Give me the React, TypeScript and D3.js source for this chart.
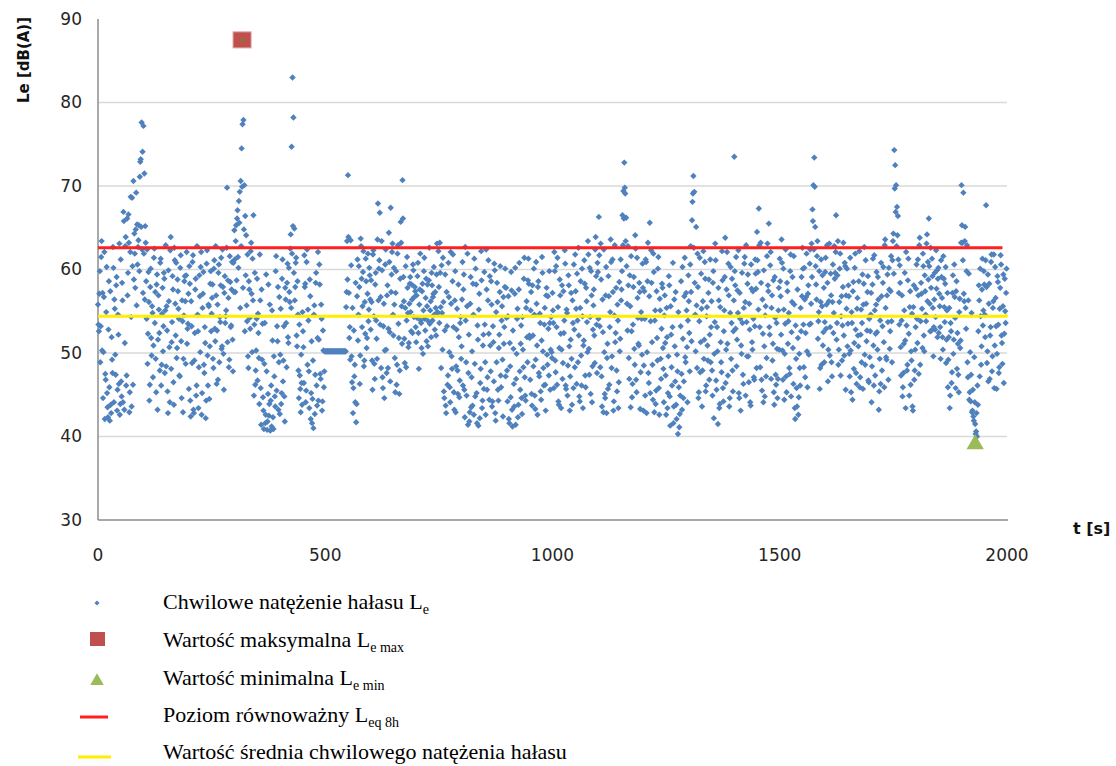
import React from 'react';
import * as d3 from 'd3';

const width = 1116;
const height = 766;
const left = 98;
const right = 1007;
const top = 19;
const bottom = 520;

// instantaneous noise level Le, one reading per second, split into even and odd seconds
// (each row covers 50 s)
const leEven = [
  55.8, 52.6, 59.8, 53.2, 63.4, 57.2, 50.1, 62.1, 47.5, 54.9, 45.2, 42.3, 58.6, 41.9, 43.8, 51.9, 47.6, 60.2, 56.4, 49.8, 58.1, 43.1, 54.6, 46.3, 42.6,
  61.2, 44.8, 56.3, 66.9, 43.2, 62.8, 46.1, 66.1, 59.6, 63.2, 45.3, 68.7, 43.6, 60.4, 70.6, 64.3, 57.8, 69.2, 65.4, 62.7, 65.3, 71.1, 73.2, 77.6, 74.1,
  77.2, 71.5, 65.2, 58.6, 62.4, 52.3, 56.1, 46.2, 60.1, 49.7, 54.8, 50.9, 62.5, 57.3, 45.3, 59.4, 51.6, 55.2, 47.9, 61.3, 48.6, 57.8, 53.2, 58.9, 55.1,
  48.4, 52.7, 42.8, 56.2, 44.1, 63.9, 51.3, 59.2, 46.5, 62.6, 55.9, 60.8, 50.6, 57.4, 54.1, 47.2, 61.7, 44.6, 53.8, 49.3, 58.6, 56.2, 59.3, 51.1, 53.5,
  45.7, 58.3, 42.4, 53.2, 60.9, 43.2, 49.1, 57.6, 44.9, 62.8, 52.6, 48.3, 56.8, 60.3, 42.6, 55.4, 59.7, 47.6, 51.2, 44.3, 62.3, 46.1, 55.6, 50.8, 59.8,
  54.7, 58.2, 48.2, 61.1, 51.4, 56.9, 52.7, 46.8, 60.6, 54.3, 58.1, 50.5, 62.4, 49.9, 57.2, 53.6, 55.1, 69.8, 58.7, 48.3, 61.6, 53.1, 57.6, 51.6, 60.8,
  64.7, 57.3, 65.3, 66.1, 61.5, 68.2, 69.3, 70.6, 74.5, 77.4, 77.9, 70.1, 66.4, 64.1, 53.8, 49.6, 58.6, 54.2, 62.2, 57.1, 61.3, 66.5, 53.4, 46.2, 50.3,
  58.9, 54.7, 49.4, 61.8, 45.8, 57.6, 53.5, 43.1, 48.7, 41.6, 59.4, 40.8, 45.1, 42.5, 55.8, 44.3, 41.2, 51.5, 40.9, 47.2, 43.6, 61.6, 53.2, 57.9, 48.9,
  42.7, 55.3, 45.2, 61.2, 49.1, 44.8, 57.8, 53.6, 58.4, 51.9, 60.2, 56.1, 64.2, 74.7, 83.0, 78.2, 64.9, 57.9, 61.4, 50.8, 54.6, 44.6, 47.3, 42.9, 46.4,
  54.9, 50.7, 61.7, 58.3, 45.5, 62.4, 55.2, 47.8, 58.8, 42.1, 51.4, 44.5, 41.0, 55.7, 47.4, 59.6, 43.7, 62.1, 51.6, 58.2, 46.9, 54.1, 44.2, 50.3, 47.8,
  50.2, 50.2, 50.2, 50.2, 50.2, 50.2, 50.2, 50.2, 50.2, 50.2, 50.2, 50.2, 50.2, 50.2, 50.2, 50.2, 50.2, 50.2, 50.2, 50.2, 50.2, 50.2, 50.2, 55.5, 63.4,
  71.3, 57.2, 53.1, 63.5, 49.6, 55.4, 45.8, 47.2, 44.1, 41.7, 56.8, 51.5, 60.4, 46.3, 63.7, 58.9, 55.6, 62.2, 49.1, 52.3, 58.6, 51.8, 61.9, 55.2, 59.3,
  52.8, 56.1, 45.6, 62.3, 48.7, 58.2, 53.9, 49.3, 67.9, 60.1, 66.8, 56.7, 63.4, 47.1, 53.2, 44.6, 60.6, 50.4, 56.9, 48.2, 64.4, 52.5, 67.4, 59.4, 63.1,
  52.1, 55.8, 45.3, 59.8, 48.6, 62.9, 51.8, 47.9, 65.7, 55.6, 70.7, 59.1, 51.7, 55.4, 48.3, 61.5, 54.8, 51.2, 58.3, 54.9, 58.2, 52.4, 59.9, 56.7, 57.4,
  51.3, 54.2, 60.8, 48.1, 57.6, 53.9, 50.6, 58.3, 55.1, 61.4, 52.7, 58.9, 55.6, 50.8, 58.7, 53.5, 56.2, 59.6, 53.9, 57.1, 54.6, 57.3, 52.1, 63.1, 54.8,
  57.9, 63.2, 55.5, 60.5, 50.4, 56.1, 44.6, 59.4, 42.8, 53.2, 47.3, 56.7, 45.9, 62.1, 49.6, 58.6, 53.1, 43.2, 59.8, 48.4, 55.3, 45.1, 51.9, 46.7, 54.3,
  50.8, 60.9, 57.6, 45.6, 62.7, 48.9, 55.6, 41.4, 52.2, 42.9, 59.1, 47.1, 43.7, 54.6, 61.3, 44.8, 58.2, 41.6, 51.6, 55.2, 42.2, 48.1, 58.7, 44.3, 52.2,
  59.7, 48.9, 62.4, 45.6, 56.3, 52.3, 59.2, 47.8, 55.8, 44.2, 51.3, 60.7, 42.8, 54.9, 58.4, 45.6, 50.6, 57.3, 47.3, 53.9, 49.2, 56.7, 53.1, 60.1, 57.8,
  47.9, 54.4, 42.1, 51.2, 44.7, 57.5, 41.2, 50.5, 43.6, 60.2, 46.9, 54.1, 42.3, 57.6, 47.8, 51.1, 44.6, 54.3, 48.3, 61.4, 44.9, 55.4, 51.9, 58.7, 58.3,
  51.8, 55.1, 45.1, 58.1, 48.4, 54.6, 43.3, 60.9, 50.9, 57.9, 47.6, 54.7, 45.4, 51.5, 59.6, 48.2, 53.4, 46.2, 56.9, 49.8, 56.8, 47.3, 53.6, 50.4, 50.1,
  57.2, 53.6, 62.1, 49.1, 60.4, 46.2, 55.5, 43.8, 58.8, 52.3, 50.4, 46.9, 57.4, 53.9, 60.7, 45.7, 54.8, 48.5, 58.1, 43.1, 51.6, 49.3, 56.3, 45.8, 52.8,
  61.8, 55.3, 59.5, 48.9, 52.1, 44.2, 58.6, 46.1, 54.4, 50.9, 61.1, 47.3, 57.8, 53.7, 63.4, 50.5, 60.2, 45.1, 56.9, 48.4, 55.7, 52.1, 62.4, 59.2, 47.6,
  59.7, 66.3, 53.2, 63.1, 47.2, 56.4, 42.9, 50.1, 44.6, 60.3, 49.4, 45.7, 56.8, 53.1, 63.6, 48.2, 61.2, 43.1, 54.5, 51.3, 57.8, 45.4, 53.9, 46.5, 50.2,
  61.2, 57.6, 66.5, 69.4, 72.8, 69.1, 66.2, 55.9, 62.8, 49.4, 59.3, 43.5, 52.6, 46.3, 57.9, 50.5, 64.1, 46.8, 61.4, 54.2, 50.9, 57.3, 47.7, 54.1, 60.7,
  43.1, 57.4, 44.9, 60.9, 50.1, 63.2, 46.4, 65.6, 53.8, 58.4, 48.6, 61.9, 42.9, 55.1, 45.5, 51.8, 60.1, 45.8, 56.5, 49.3, 52.9, 57.8, 48.1, 54.5, 51.2,
  42.6, 51.9, 45.2, 59.2, 44.8, 55.6, 48.3, 53.1, 41.6, 56.4, 46.6, 43.8, 49.8, 40.3, 45.9, 42.7, 53.2, 47.5, 60.3, 44.6, 56.8, 49.5, 57.2, 50.7, 53.9,
  56.2, 47.8, 62.8, 51.4, 68.1, 71.2, 69.3, 54.6, 65.1, 48.2, 57.9, 45.3, 61.4, 51.3, 55.3, 47.9, 62.2, 51.6, 58.9, 46.1, 55.5, 49.1, 58.8, 52.2, 48.9,
  56.2, 44.9, 59.8, 49.9, 63.1, 46.7, 53.1, 41.5, 56.3, 43.9, 51.3, 47.7, 58.7, 44.2, 55.1, 63.8, 50.4, 62.1, 47.3, 56.9, 44.6, 60.3, 53.6, 47.9, 52.6,
  73.5, 58.1, 61.5, 51.6, 54.8, 45.2, 57.2, 43.1, 49.9, 53.6, 46.3, 60.7, 56.1, 62.9, 49.6, 59.4, 46.5, 52.8, 43.7, 57.7, 50.4, 54.1, 46.8, 61.2, 57.7,
  64.5, 59.7, 67.3, 53.1, 63.2, 46.8, 56.4, 44.1, 50.8, 54.5, 47.2, 61.6, 58.1, 65.5, 52.2, 62.1, 55.4, 49.1, 58.7, 43.8, 54.2, 46.2, 50.5, 46.9, 57.8,
  61.3, 56.8, 63.6, 50.3, 60.1, 44.4, 53.5, 47.2, 58.4, 51.1, 54.8, 47.5, 61.8, 52.5, 59.1, 46.3, 55.8, 42.1, 49.3, 43.6, 51.8, 44.7, 48.2, 55.4, 59.1,
  62.6, 53.4, 60.2, 47.1, 56.7, 50.2, 57.1, 49.8, 60.7, 53.5, 63.1, 67.2, 70.1, 73.4, 65.1, 58.2, 61.6, 51.7, 54.9, 45.7, 56.1, 48.6, 59.3, 52.5, 48.9,
  59.7, 52.9, 62.9, 46.6, 56.2, 49.7, 59.5, 48.9, 56.1, 52.4, 62.8, 59.6, 66.5, 53.6, 63.4, 50.4, 60.1, 47.3, 56.8, 53.3, 63.2, 49.7, 60.4, 56.9, 60.1,
  53.5, 56.8, 47.2, 50.3, 54.9, 44.4, 58.5, 51.2, 61.9, 47.6, 55.3, 52.1, 58.6, 45.9, 52.2, 48.9, 59.4, 55.8, 62.7, 48.6, 55.9, 52.7, 59.2, 46.5, 49.5,
  54.6, 44.1, 58.2, 50.9, 61.7, 47.3, 55.8, 52.5, 59.1, 43.2, 49.3, 46.3, 56.8, 53.2, 60.3, 45.9, 63.6, 49.5, 56.9, 53.7, 60.2, 50.5, 57.4, 53.8, 61.1,
  64.3, 74.3, 72.5, 70.1, 67.5, 66.4, 57.2, 60.5, 50.7, 53.9, 44.8, 47.6, 55.1, 51.5, 62.1, 47.9, 58.7, 52.3, 55.5, 46.2, 49.1, 43.6, 55.5, 46.8, 50.4,
  57.7, 54.1, 61.2, 47.5, 63.8, 53.8, 57.1, 50.6, 60.4, 50.2, 57.4, 53.8, 64.2, 60.9, 66.1, 55.9, 62.6, 52.7, 59.2, 49.6, 56.4, 52.8, 62.3, 59.9, 58.9,
  52.4, 55.6, 49.3, 59.1, 51.9, 61.6, 55.5, 58.3, 48.8, 55.1, 45.9, 51.9, 43.4, 53.6, 46.4, 57.2, 49.9, 60.6, 54.2, 57.4, 48.1, 51.1, 45.3, 56.5, 51.5,
  70.1, 63.2, 69.2, 56.2, 65.1, 52.9, 62.9, 47.1, 59.5, 45.3, 44.2, 54.8, 43.1, 42.4, 49.5, 41.5, 40.6, 40.0, 43.8, 58.1, 47.2, 54.4, 50.8, 61.3, 55.1,
  58.2, 51.9, 67.7, 48.8, 59.4, 55.9, 46.9, 53.1, 61.8, 49.6, 56.2, 45.8, 60.3, 53.2, 49.9, 58.5, 47.6, 55.3, 61.7, 52.1, 48.7, 59.4, 52.3, 55.0, 57.2,
];

const leOdd = [
  53.4, 57.1, 48.9, 61.5, 50.3, 44.6, 56.7, 42.1, 46.8, 60.3, 43.5, 52.8, 45.9, 57.4, 42.8, 49.2, 62.7, 44.1, 55.3, 47.4, 59.1, 45.6, 52.2, 63.1, 43.9,
  46.6, 58.4, 44.1, 65.8, 51.2, 63.9, 47.3, 56.9, 66.6, 42.9, 62.1, 54.3, 68.6, 46.2, 58.8, 61.9, 64.8, 55.7, 60.6, 63.5, 59.8, 72.9, 65.1, 62.4, 57.2,
  61.9, 56.4, 63.2, 54.1, 48.7, 59.7, 44.3, 57.9, 51.8, 55.6, 47.1, 61.4, 53.6, 49.3, 58.2, 43.2, 56.9, 52.4, 60.8, 46.1, 54.7, 50.2, 59.6, 47.6, 62.9,
  55.6, 45.4, 59.9, 50.7, 62.3, 48.1, 53.7, 57.6, 43.8, 61.1, 52.1, 49.4, 58.8, 55.3, 47.3, 60.2, 51.4, 56.3, 42.9, 54.5, 59.2, 48.7, 62.1, 52.9, 57.1,
  60.4, 44.3, 56.2, 48.8, 61.7, 42.8, 52.4, 58.9, 46.1, 54.6, 43.4, 59.3, 50.1, 62.1, 45.2, 57.1, 48.6, 53.1, 42.2, 60.7, 49.7, 55.8, 44.5, 58.3, 52.6,
  56.6, 49.3, 60.1, 52.9, 62.8, 46.3, 55.8, 59.6, 48.9, 53.7, 61.4, 50.8, 57.9, 45.6, 59.2, 54.4, 62.6, 51.3, 56.6, 49.2, 58.5, 53.3, 60.9, 47.8, 57.3,
  61.2, 63.4, 58.7, 67.1, 60.2, 65.6, 55.4, 62.8, 69.9, 57.8, 64.8, 52.6, 59.3, 55.7, 61.8, 48.2, 57.6, 52.9, 63.2, 50.1, 56.3, 44.9, 59.6, 47.9, 54.1,
  46.7, 52.4, 43.9, 56.3, 41.4, 49.2, 44.7, 40.9, 53.6, 42.6, 47.8, 41.8, 58.2, 43.9, 40.7, 46.1, 55.1, 42.3, 49.6, 44.8, 59.8, 45.5, 51.4, 43.2, 56.7,
  49.8, 43.9, 58.9, 46.6, 53.2, 41.8, 56.4, 48.3, 60.7, 51.2, 57.3, 62.5, 55.4, 61.9, 65.2, 59.6, 56.3, 60.8, 52.1, 58.6, 47.9, 53.4, 45.7, 49.8, 43.8,
  52.6, 46.4, 57.9, 44.1, 60.9, 48.6, 53.9, 43.4, 56.8, 45.2, 41.6, 49.1, 54.6, 42.7, 58.4, 46.1, 51.8, 44.3, 60.6, 47.5, 55.8, 43.1, 52.7, 45.9, 50.2,
  50.2, 50.2, 50.2, 50.2, 50.2, 50.2, 50.2, 50.2, 50.2, 50.2, 50.2, 50.2, 50.2, 50.2, 50.2, 50.2, 50.2, 50.2, 50.2, 50.2, 50.2, 50.2, 50.2, 57.3, 58.8,
  63.9, 51.8, 49.2, 60.5, 46.5, 42.8, 52.7, 48.6, 58.4, 43.9, 61.2, 54.6, 57.9, 49.7, 62.8, 53.1, 59.7, 48.4, 56.1, 61.3, 50.6, 57.1, 53.8, 60.2, 56.4,
  58.7, 49.1, 61.8, 54.4, 46.9, 59.6, 51.7, 63.6, 56.3, 61.1, 53.4, 48.2, 59.9, 45.8, 55.9, 50.3, 62.4, 47.6, 58.1, 52.9, 60.9, 46.6, 57.3, 62.1, 54.6,
  60.2, 49.4, 57.2, 46.2, 61.9, 53.5, 45.1, 58.9, 63.2, 51.1, 66.1, 56.2, 48.8, 60.4, 53.9, 57.8, 50.7, 55.9, 59.1, 52.6, 56.4, 60.6, 54.3, 57.9, 53.1,
  56.9, 59.2, 52.4, 55.8, 61.9, 53.6, 57.4, 49.9, 59.8, 54.1, 56.6, 51.4, 58.2, 53.8, 62.6, 55.1, 51.9, 58.1, 56.7, 60.3, 52.8, 55.4, 59.4, 54.9, 62.2,
  53.6, 59.6, 48.2, 54.8, 61.4, 45.4, 52.7, 43.7, 57.3, 46.2, 60.8, 50.1, 44.1, 55.9, 48.1, 61.8, 45.3, 56.3, 42.9, 52.8, 47.9, 58.2, 44.7, 53.6, 49.3,
  56.4, 46.1, 59.4, 42.3, 53.9, 44.9, 61.9, 47.6, 41.8, 55.9, 43.5, 50.2, 58.3, 42.6, 48.7, 60.1, 45.2, 53.3, 41.3, 57.1, 46.4, 62.2, 43.4, 50.9, 45.7,
  53.4, 42.6, 57.6, 47.1, 61.1, 44.4, 50.9, 58.6, 43.6, 53.2, 46.6, 59.9, 41.9, 48.9, 56.1, 44.3, 52.2, 60.4, 45.9, 55.6, 42.4, 51.1, 57.9, 47.2, 54.2,
  44.2, 56.8, 41.6, 48.4, 59.7, 43.2, 52.7, 46.3, 57.1, 41.4, 49.9, 55.3, 43.8, 60.8, 45.6, 53.3, 42.7, 50.4, 58.9, 47.1, 44.3, 56.2, 48.9, 61.3, 52.1,
  46.8, 57.3, 43.7, 52.1, 60.1, 44.9, 49.2, 55.9, 42.6, 58.6, 47.2, 53.6, 44.4, 61.5, 50.2, 46.1, 55.4, 43.1, 57.8, 48.6, 52.9, 59.8, 45.6, 54.3, 49.4,
  55.1, 45.8, 59.8, 47.7, 53.1, 61.4, 44.2, 50.6, 56.9, 43.4, 58.1, 48.8, 52.4, 62.3, 46.1, 55.2, 44.9, 59.3, 50.8, 47.2, 57.2, 43.8, 53.6, 60.6, 48.3,
  57.4, 46.3, 53.9, 62.6, 44.8, 55.4, 49.7, 60.1, 43.4, 51.5, 58.3, 45.9, 56.2, 50.1, 61.8, 47.4, 54.3, 59.8, 44.1, 52.8, 57.6, 48.8, 63.9, 53.4, 60.8,
  54.1, 61.7, 48.3, 58.8, 43.6, 52.5, 62.4, 45.1, 56.9, 42.8, 51.1, 59.2, 46.2, 54.9, 60.9, 49.6, 57.3, 44.2, 62.9, 52.4, 47.9, 55.8, 43.4, 58.5, 51.7,
  56.3, 59.8, 62.9, 66.1, 69.8, 63.4, 60.4, 52.7, 58.1, 46.9, 55.6, 61.6, 44.7, 53.4, 59.1, 48.6, 62.5, 45.3, 56.6, 51.1, 58.4, 43.3, 54.9, 49.8, 57.8,
  48.5, 54.1, 61.2, 42.8, 58.6, 47.6, 56.8, 45.2, 62.3, 51.3, 44.4, 59.7, 53.9, 43.9, 57.4, 49.1, 61.5, 42.6, 55.1, 46.9, 58.3, 50.6, 44.1, 56.9, 47.3,
  55.4, 43.4, 49.6, 58.1, 41.3, 52.2, 46.1, 60.8, 43.6, 50.8, 57.3, 42.1, 47.8, 54.9, 41.1, 44.9, 58.6, 43.2, 51.7, 46.6, 61.4, 48.9, 55.1, 44.1, 59.3,
  52.4, 60.6, 57.3, 65.9, 69.1, 62.6, 58.4, 50.2, 55.7, 61.9, 44.6, 53.8, 47.7, 59.5, 43.6, 56.2, 49.3, 60.9, 45.4, 54.4, 50.9, 57.2, 46.8, 61.2, 53.1,
  47.9, 58.4, 42.2, 53.7, 61.1, 45.6, 50.2, 57.8, 43.4, 55.5, 48.9, 62.2, 45.8, 52.6, 59.1, 46.4, 57.6, 51.1, 60.7, 43.6, 54.8, 49.3, 58.9, 45.4, 56.3,
  59.8, 52.9, 48.4, 57.5, 62.3, 44.6, 54.1, 50.9, 59.6, 47.4, 55.4, 61.5, 44.9, 53.7, 58.3, 49.6, 55.9, 44.1, 60.6, 51.3, 57.4, 47.1, 53.2, 59.5, 48.2,
  61.1, 55.2, 62.9, 48.3, 58.4, 45.5, 52.3, 59.9, 44.8, 55.6, 49.4, 63.1, 57.4, 53.1, 60.5, 46.9, 56.9, 51.1, 45.3, 59.1, 47.4, 53.6, 44.6, 55.1, 50.4,
  58.6, 52.2, 60.8, 46.8, 55.2, 49.9, 62.4, 45.3, 57.4, 53.8, 48.2, 59.8, 44.8, 56.1, 50.6, 61.6, 43.4, 53.3, 45.8, 57.6, 42.6, 49.9, 46.1, 52.6, 56.8,
  60.1, 48.3, 56.4, 52.4, 61.9, 45.9, 58.1, 53.4, 62.4, 55.9, 59.1, 65.8, 62.4, 69.9, 60.4, 56.4, 63.4, 53.8, 59.8, 48.2, 61.2, 55.6, 50.9, 57.8, 53.7,
  61.4, 55.8, 58.4, 50.4, 63.1, 53.1, 56.9, 47.2, 60.6, 54.8, 58.9, 62.1, 51.6, 59.3, 48.6, 56.1, 61.9, 54.4, 49.1, 57.9, 52.1, 60.8, 45.6, 55.3, 50.8,
  58.1, 49.9, 61.4, 45.3, 53.6, 57.4, 48.1, 60.2, 52.8, 46.3, 56.6, 50.8, 62.2, 47.1, 55.2, 53.6, 45.7, 58.3, 49.8, 61.1, 51.4, 57.3, 46.7, 54.1, 52.6,
  57.2, 48.4, 61.3, 46.1, 55.1, 52.3, 59.7, 50.4, 56.4, 45.4, 53.9, 60.8, 47.9, 58.4, 51.3, 62.9, 55.4, 49.2, 59.4, 46.8, 57.6, 52.6, 61.6, 48.9, 63.4,
  59.5, 69.7, 66.9, 62.8, 64.1, 61.2, 53.4, 58.4, 47.3, 56.9, 45.9, 51.1, 59.6, 43.4, 53.3, 48.6, 61.3, 44.9, 57.4, 50.2, 54.7, 43.1, 58.1, 47.9, 53.1,
  60.6, 51.2, 56.9, 62.9, 48.6, 58.4, 55.3, 61.9, 52.1, 59.3, 54.6, 63.1, 56.2, 58.8, 60.4, 52.6, 57.8, 61.3, 55.4, 53.1, 59.6, 54.3, 57.7, 51.9, 60.2,
  57.1, 53.1, 61.1, 56.6, 50.4, 58.9, 53.7, 60.3, 51.6, 57.2, 49.2, 55.4, 44.9, 52.6, 47.7, 59.3, 51.6, 56.7, 45.8, 58.6, 52.4, 47.4, 54.9, 50.6, 63.2,
  65.3, 61.1, 57.1, 63.4, 55.4, 59.8, 48.9, 56.3, 44.4, 50.1, 47.4, 42.9, 45.6, 41.9, 44.1, 40.3, 42.8, 46.1, 52.6, 56.3, 60.1, 48.6, 57.6, 53.3, 59.8,
  54.6, 61.1, 57.9, 50.2, 46.6, 58.3, 52.1, 60.9, 47.8, 55.4, 61.8, 50.9, 56.6, 45.7, 59.2, 53.4, 48.3, 57.8, 60.6, 51.2, 55.6, 46.4, 58.9, 53.6, 60.1,
];

const leMax = { t: 317, v: 87.5 };
const leMin = { t: 1930, v: 39.2 };
const leqLine = [[0, 62.6], [1990, 62.6]];
const meanLine = [[0, 54.4], [1998, 54.4], [2000, 54.6]];

const xTicks = [0, 500, 1000, 1500, 2000];
const yTicks = [30, 40, 50, 60, 70, 80, 90];

const blue = '#4f81bd';
const red = '#c0504d';
const green = '#9bbb59';

const points = [
  ...leEven.map((v, i) => [i * 2, v]),
  ...leOdd.map((v, i) => [i * 2 + 1, v]),
];

const x = d3.scaleLinear().domain([0, 2000]).range([left, right]);
const y = d3.scaleLinear().domain([30, 90]).range([bottom, top]);

const diamond = d3.symbol().type(d3.symbolDiamond2).size(26)();
const bigTriangle = d3.symbol().type(d3.symbolTriangle).size(130)();
const smallTriangle = d3.symbol().type(d3.symbolTriangle).size(80)();
const line = d3.line().x(d => x(d[0])).y(d => y(d[1]));

const serif = '"Liberation Serif", "Times New Roman", serif';
const sans = '"DejaVu Sans", Verdana, sans-serif';

const Sub = ({ children }) => (
  <tspan fontSize="14" dy="5">{children}</tspan>
);

const App = () => (
  <svg width={width} height={height} style={{ position: 'absolute', left: 0, top: 0 }}>
    <rect width={width} height={height} fill="white" />

    {yTicks.filter(v => v > 30 && v < 90).map(v => (
      <line key={v} x1={left} x2={right} y1={y(v)} y2={y(v)} stroke="#d9d9d9" strokeWidth={1.5} />
    ))}
    <line x1={left} x2={left} y1={top} y2={bottom} stroke="#8c8c8c" strokeWidth={1.5} />
    <line x1={left} x2={right + 1} y1={bottom} y2={bottom} stroke="#8c8c8c" strokeWidth={1.5} />

    {yTicks.map(v => (
      <text key={v} x={82} y={y(v)} dy="0.35em" textAnchor="end" fontFamily={sans} fontSize="17" fill="#262626">{v}</text>
    ))}
    {xTicks.map(v => (
      <text key={v} x={x(v)} y={561} textAnchor="middle" fontFamily={sans} fontSize="17" fill="#262626">{v}</text>
    ))}
    <text transform="translate(29,60) rotate(-90)" textAnchor="middle" fontFamily={sans} fontSize="15" fontWeight="bold" fill="#111">Le [dB(A)]</text>
    <text x={1073} y={534} fontFamily={sans} fontSize="16" fontWeight="bold" fill="#111">t [s]</text>

    <g fill={blue}>
      {points.map((p, i) => (
        <path key={i} d={diamond} transform={`translate(${x(p[0])},${y(p[1])})`} />
      ))}
    </g>

    <path d={line(leqLine)} fill="none" stroke="#ff1f1f" strokeWidth={3} />
    <path d={line(meanLine)} fill="none" stroke="#ffee00" strokeWidth={3} />

    <rect x={x(leMax.t) - 9} y={y(leMax.v) - 8} width={18} height={16} fill={red} stroke="#d8a09e" strokeWidth={1} />
    <circle cx={x(leMax.t)} cy={y(leMax.v)} r={2.5} fill="#9b6a3c" />
    <path d={bigTriangle} transform={`translate(${x(leMin.t)},${y(leMin.v) + 1})`} fill={green} />

    <g fontFamily={serif} fontSize="22" fill="#000">
      <path d={diamond} transform="translate(97,603) scale(0.8)" fill={blue} />
      <text x={163} y={609}>Chwilowe natężenie hałasu L<Sub>e</Sub></text>

      <rect x={90} y={632} width={15} height={14} fill={red} />
      <text x={163} y={647}>Wartość maksymalna L<Sub>e max</Sub></text>

      <path d={smallTriangle} transform="translate(97,681)" fill={green} />
      <text x={163} y={685}>Wartość minimalna L<Sub>e min</Sub></text>

      <line x1={80} x2={108} y1={717} y2={717} stroke="#ff1f1f" strokeWidth={3} />
      <text x={163} y={722}>Poziom równoważny L<Sub>eq 8h</Sub></text>

      <line x1={78} x2={111} y1={757} y2={757} stroke="#ffee00" strokeWidth={3} />
      <text x={163} y={759}>Wartość średnia chwilowego natężenia hałasu</text>
    </g>
  </svg>
);

export default App;
